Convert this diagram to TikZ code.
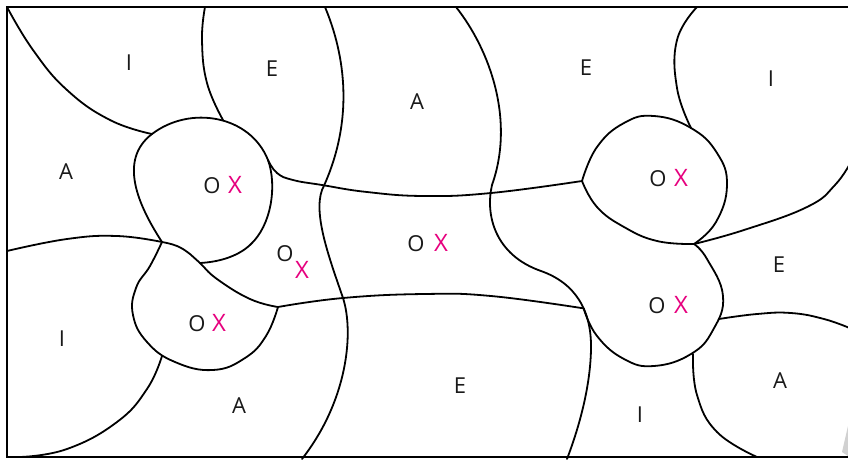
\documentclass[tikz,border=0pt]{standalone}
\usepackage{fontspec}
\setmainfont{Open Sans}
\usepackage{tikz}
\usetikzlibrary{positioning}
\definecolor{crossmag}{RGB}{230,0,126}
\tikzset{
  mapframe/.style={draw, line width=2.2pt},
  mapline/.style={draw, line width=1.8pt, line cap=round},
  mapcurve/.style={smooth, tension=0.75},
  maplabel/.style={inner sep=0pt, font=\fontsize{22}{26}\selectfont, text=black!90},
  markx/.style={inner sep=0pt, font=\fontsize{24}{28}\selectfont, text=crossmag}
}
\begin{document}
\begin{tikzpicture}[x=1pt, y=-1pt]
\useasboundingbox (0,0) rectangle (848,459);
\clip (0,0) rectangle (848,459);
\draw[mapframe] (860,7) -- (7,7) -- (7,457) -- (860,457);
\fill[black!18] (842,452) -- (848,426) -- (848,456) -- cycle;
% outer boundaries
\draw[mapline] plot[mapcurve] coordinates {(7,7) (33,50) (67,90) (110,120) (152,134)};
\draw[mapline] plot[mapcurve] coordinates {(205,7) (202,40) (207,83) (223,120)};
\draw[mapline] plot[mapcurve] coordinates {(7,251) (67,239) (117,236) (162,242)};
\draw[mapline] plot[mapcurve] coordinates {(162,356) (147,389) (117,422) (67,449) (20,457)};
\draw[mapline] (325,7) .. controls (345,55) and (355,120) .. (322,190)
  .. controls (313,215) and (330,260) .. (343,298)
  .. controls (354,332) and (348,400) .. (302,459);
\draw[mapline] (456,7) .. controls (490,50) and (515,120) .. (492,185)
  .. controls (485,215) and (495,255) .. (541,271)
  .. controls (575,283) and (592,310) .. coordinate[pos=0.6] (jlow) (591,350)
  .. controls (590,390) and (578,430) .. (567,459);
\draw[mapline] plot[mapcurve] coordinates {(697,7) (677,40) (677,88) (691,128)};
\draw[mapline] plot[mapcurve] coordinates {(694,244) (744,230) (807,207) (835,185) (852,160)};
\draw[mapline] plot[mapcurve] coordinates {(719,319) (757,314) (791,313) (824,319) (852,329)};
\draw[mapline] plot[mapcurve] coordinates {(693,354) (697,395) (717,432) (757,457)};
% links between blobs
\draw[mapline] plot[mapcurve] coordinates {(268,160) (277,173) (293,180) (322,185) (367,192) (424,196) (491,193) (582,181)};
\draw[mapline] plot[mapcurve] coordinates {(278,307) (343,298) (424,294) (491,296) (jlow)};
% blobs
\draw[mapline] (162,242) .. controls (138,205) and (118,160) .. (152,134)
  .. controls (190,105) and (250,115) .. (268,160)
  .. controls (277,185) and (272,225) .. (250,245)
  .. controls (237,257) and (218,262) .. (200,263);
\draw[mapline] plot[mapcurve] coordinates {(162,242) (177,246) (190,254) (200,263) (217,279) (250,299) (278,307)};
\draw[mapline] plot[mapcurve] coordinates {(162,242) (150,266) (136,288) (133,315) (147,342) (175,362) (213,370) (245,358) (266,336) (278,307)};
\draw[mapline] plot[mapcurve] coordinates {(582,181) (597,147) (624,123) (654,116) (691,128) (717,153) (727,185) (716,222) (694,244)};
\draw[mapline] plot[mapcurve] coordinates {(582,181) (597,207) (624,227) (657,241) (694,244)};
\draw[mapline] plot[mapcurve] coordinates {(jlow) (597,336) (624,359) (654,366) (691,354) (713,330) (723,296) (707,259) (694,244)};
% region letters
\node[maplabel] (i1) at (129,63) {I};
\node[maplabel] (e1) at (272,69) {E};
\node[maplabel] (a1) at (417,102) {A};
\node[maplabel] (e2) at (586,68) {E};
\node[maplabel] (i2) at (771,79) {I};
\node[maplabel] (a2) at (66,172) {A};
\node[maplabel] (e3) at (779,265) {E};
\node[maplabel] (i3) at (62,339) {I};
\node[maplabel] (a3) at (239,406) {A};
\node[maplabel] (e4) at (460,386) {E};
\node[maplabel] (i4) at (640,415) {I};
\node[maplabel] (a4) at (780,381) {A};
% O and X marks
\node[maplabel] (o1) at (212,186) {O};
\node[markx] (x1) at (235,185) {X};
\node[maplabel] (o2) at (285,254) {O};
\node[markx] (x2) at (302,270) {X};
\node[maplabel] (o3) at (416,244) {O};
\node[markx] (x3) at (441,243) {X};
\node[maplabel] (o4) at (658,179) {O};
\node[markx] (x4) at (681,178) {X};
\node[maplabel] (o5) at (657,306) {O};
\node[markx] (x5) at (681,305) {X};
\node[maplabel] (o6) at (197,324) {O};
\node[markx] (x6) at (219,323) {X};
\end{tikzpicture}
\end{document}
